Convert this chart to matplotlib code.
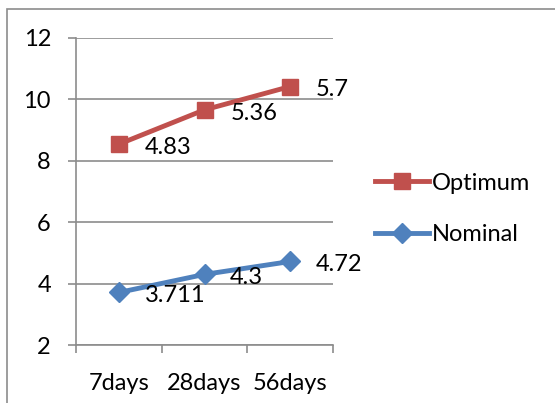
import matplotlib
matplotlib.use('Agg')
import matplotlib.pyplot as plt
from matplotlib.patches import Rectangle

# Datos del ensayo
days = ['7days', '28days', '56days']
nominal = [3.711, 4.3, 4.72]
optimum = [4.83, 5.36, 5.7]

# Serie apilada: optimum se dibuja sobre nominal
optimum_stacked = [n + o for n, o in zip(nominal, optimum)]

FS = 17
plt.rcParams['font.family'] = ['Lato', 'DejaVu Sans']
plt.rcParams['font.size'] = FS

W, H = 555, 403
fig = plt.figure(figsize=(W / 100, H / 100), dpi=100)

# Marco exterior del gráfico
fig.patches.append(Rectangle((7 / W, -0.1), 1.2, (H - 9) / H + 0.1, transform=fig.transFigure,
                             fill=False, edgecolor='#8c8c8c', linewidth=1.2))

ax = fig.add_axes([76 / W, (H - 345) / H, 257 / W, 307 / H])

red = '#C0504D'
blue = '#4F81BD'
x = list(range(len(days)))

ax.plot(x, optimum_stacked, color=red, linewidth=3.5, marker='s', markersize=12,
        label='Optimum', zorder=3)
ax.plot(x, nominal, color=blue, linewidth=3.5, marker='D', markersize=10,
        label='Nominal', zorder=3)

for xi, yi, v in zip(x, optimum_stacked, optimum):
    ax.annotate(f'{v:g}', (xi, yi), xytext=(18.5, -2.5), textcoords='offset points',
                ha='left', va='center', fontsize=FS)
for xi, yi, v in zip(x, nominal, nominal):
    ax.annotate(f'{v:g}', (xi, yi), xytext=(18.5, -2.5), textcoords='offset points',
                ha='left', va='center', fontsize=FS)

ax.set_xlim(-0.5, 2.5)
ax.set_ylim(2, 12)
ax.set_yticks([2, 4, 6, 8, 10, 12])
ax.set_xticks(x)
ax.set_xticklabels(days)
ax.set_xticks([-0.5, 0.5, 1.5, 2.5], minor=True)
ax.tick_params(axis='x', which='major', length=0, pad=20)
ax.tick_params(axis='x', which='minor', length=6, width=1.2, color='#8c8c8c', direction='out')
ax.tick_params(axis='y', length=6, width=1.2, color='#8c8c8c', direction='out', pad=12)

ax.grid(axis='y', color='#8c8c8c', linewidth=1.2)
ax.set_axisbelow(True)
for side in ['top', 'right']:
    ax.spines[side].set_visible(False)
for side in ['left', 'bottom']:
    ax.spines[side].set_color('#8c8c8c')
    ax.spines[side].set_linewidth(1.2)

fig.legend(loc='center left', bbox_to_anchor=(363 / W, 1 - 209 / H), frameon=False,
           handlelength=2.3, handletextpad=0.1, labelspacing=1.3, fontsize=FS,
           borderpad=0)

fig.savefig('out.png', dpi=100)
